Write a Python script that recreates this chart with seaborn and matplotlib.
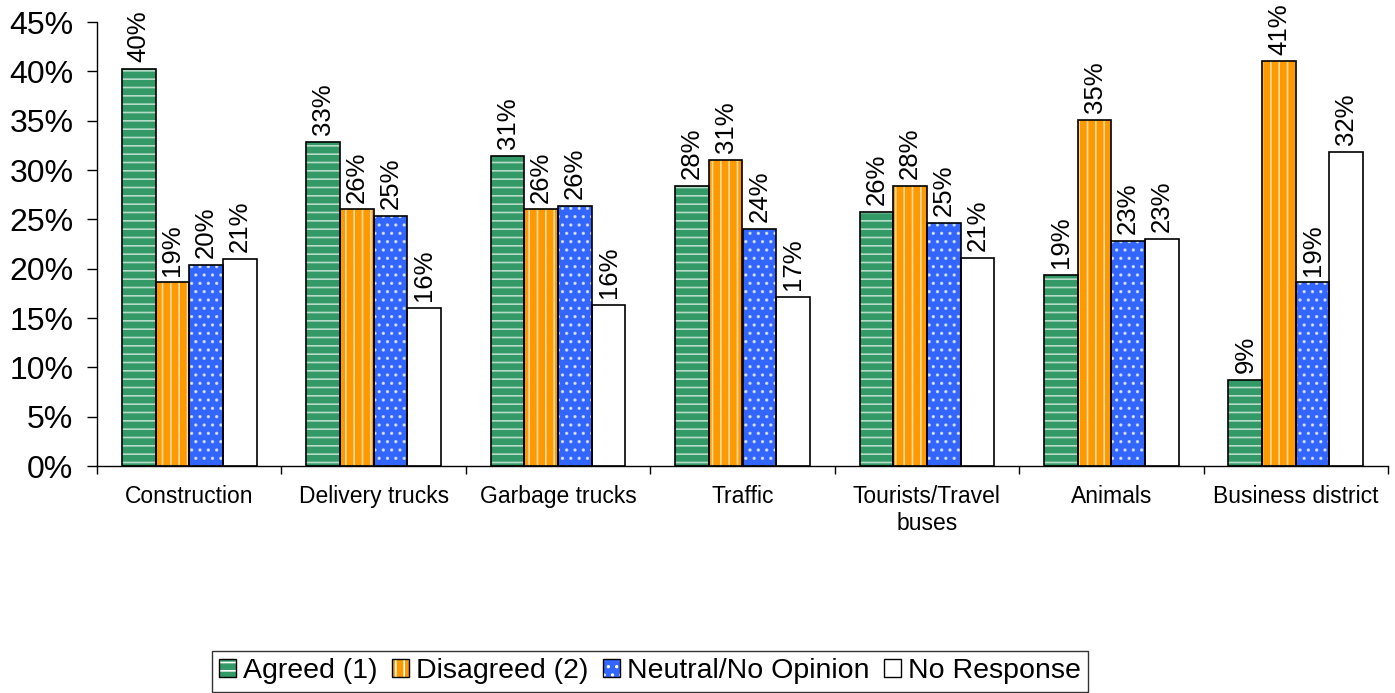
import numpy as np
import pandas as pd
import matplotlib
matplotlib.use("Agg")
import matplotlib.pyplot as plt
import seaborn as sns
from matplotlib.patches import Patch

sns.set_theme(style="white", rc={"text.color": "black", "xtick.color": "black",
                                 "ytick.color": "black", "axes.labelcolor": "black"})
plt.rcParams['font.family'] = ['Liberation Sans', 'DejaVu Sans']
plt.rcParams['hatch.linewidth'] = 1.2

# DATA (percent)
categories = ["Construction", "Delivery trucks", "Garbage trucks", "Traffic",
              "Tourists/Travel\nbuses", "Animals", "Business district"]
series = ["Agreed (1)", "Disagreed (2)", "Neutral/No Opinion", "No Response"]
agreed = [40.2, 32.8, 31.4, 28.4, 25.7, 19.4, 8.7]
disagreed = [18.6, 26.0, 26.0, 31.0, 28.4, 35.1, 41.0]
neutral = [20.4, 25.3, 26.4, 24.0, 24.6, 22.8, 18.6]
no_response = [21.0, 16.0, 16.3, 17.1, 21.1, 23.0, 31.8]

colors = ["#339966", "#FF9900", "#3366FF", "#FFFFFF"]
hatches = ["--", "||", "..", ""]

df = pd.DataFrame({
    "category": np.repeat(categories, len(series)),
    "series": series * len(categories),
    "value": np.ravel(np.column_stack([agreed, disagreed, neutral, no_response])),
})

fig = plt.figure(figsize=(13.95, 6.93), dpi=100)
ax = fig.add_axes([97 / 1395, 227 / 693, 1291 / 1395, 444 / 693])

# fill + white hatch layer
sns.barplot(data=df, x="category", y="value", hue="series", order=categories,
            hue_order=series, palette=colors, width=0.73, saturation=1,
            edgecolor=(1, 1, 1, 0.65), linewidth=0, legend=False, ax=ax)
for cont, h in zip(ax.containers, hatches):
    for bar in cont:
        bar.set_hatch(h)
n_first = len(ax.containers)

# black outline layer
sns.barplot(data=df, x="category", y="value", hue="series", order=categories,
            hue_order=series, fill=False, width=0.73, edgecolor="black",
            linewidth=1.2, legend=False, ax=ax)

for cont in ax.containers[n_first:]:
    labels = [f"{b.get_height():.0f}%" for b in cont]
    ax.bar_label(cont, labels=labels, rotation=90, padding=5, fontsize=18.5, color="black")

ax.set_ylim(0, 45)
ax.set_xlim(-0.5, len(categories) - 0.5)
ax.set_yticks(np.arange(0, 46, 5))
ax.set_yticklabels([f"{v}%" for v in range(0, 46, 5)], fontsize=23)
ax.set_xticks(np.arange(-0.5, len(categories)), labels=[""] * (len(categories) + 1))
ax.set_xticks(np.arange(len(categories)), labels=categories, minor=True, fontsize=16.5)
ax.tick_params(axis="x", which="major", direction="out", length=6, width=1, color="black", bottom=True)
ax.tick_params(axis="x", which="minor", length=0, pad=14, bottom=True)
ax.tick_params(axis="y", direction="out", length=7, width=1, color="black", pad=10, left=True)
ax.set_xlabel("")
ax.set_ylabel("")
for s in ["top", "right"]:
    ax.spines[s].set_visible(False)
for s in ["left", "bottom"]:
    ax.spines[s].set_color("black")
    ax.spines[s].set_linewidth(1)
ax.grid(False)

handles = []
for c, h in zip(colors, hatches):
    handles.append((Patch(facecolor=c, edgecolor="white", hatch=h, linewidth=0),
                    Patch(fill=False, edgecolor="black", linewidth=1)))
leg = fig.legend(handles, series, loc="lower center", bbox_to_anchor=(650 / 1395, 0.002),
                 ncol=4, fontsize=20.5, frameon=True, fancybox=False, edgecolor="black",
                 handlelength=0.6, handleheight=0.6, handletextpad=0.25,
                 columnspacing=0.5, borderpad=0.25, borderaxespad=0)
leg.get_frame().set_linewidth(1)

fig.savefig("out.png", dpi=100)
